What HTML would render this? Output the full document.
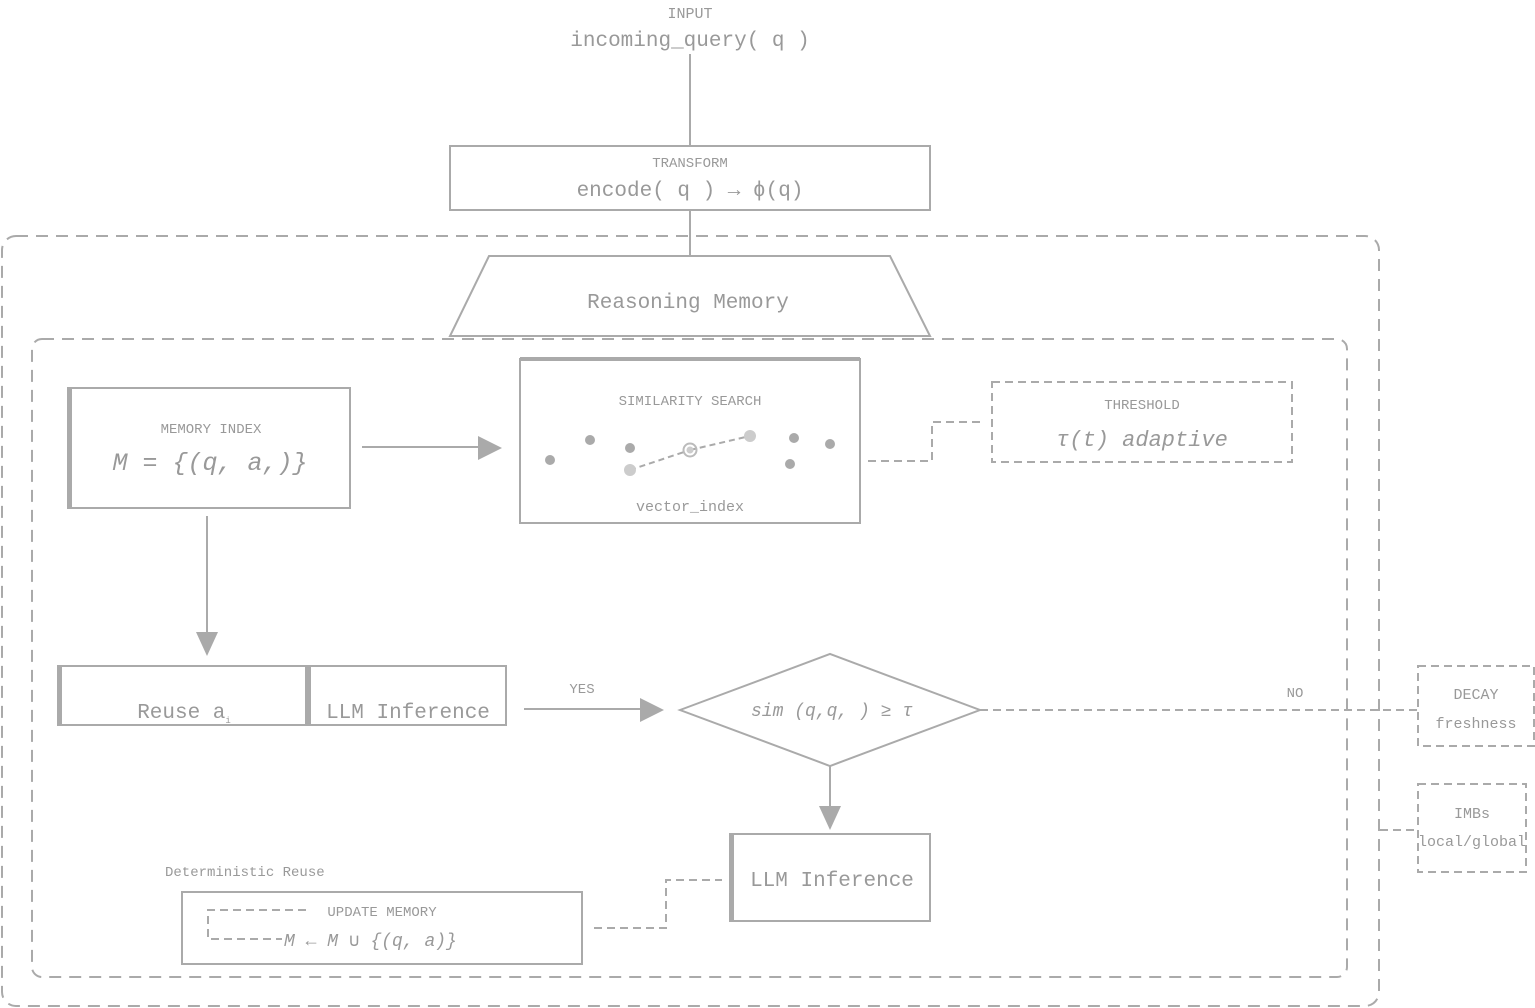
<!DOCTYPE html>
<html><head><meta charset="utf-8"><style>
html,body{margin:0;padding:0;background:#fff;}
svg{display:block;}
text{font-family:"Liberation Mono","DejaVu Sans Mono",monospace;fill:#999;}
</style></head><body>
<svg width="1535" height="1008" viewBox="0 0 1535 1008" xmlns="http://www.w3.org/2000/svg">
<g fill="none" stroke="#aaa" stroke-width="2">
<!-- outer containers -->
<rect x="2" y="236" width="1377" height="770" rx="14" stroke-dasharray="12,8"/>
<rect x="32" y="339" width="1315" height="638" rx="10" stroke-dasharray="12,8"/>
<!-- top lines -->
<line x1="690" y1="54" x2="690" y2="146"/>
<rect x="450" y="146" width="480" height="64"/>
<line x1="690" y1="210" x2="690" y2="256"/>
<polygon points="489,256 890,256 930,336 450,336" fill="#fff"/>
<!-- memory index -->
<rect x="68" y="388" width="282" height="120"/>
<line x1="70" y1="388" x2="70" y2="508" stroke-width="4"/>
<line x1="362" y1="447" x2="482" y2="447"/>
<!-- similarity -->
<rect x="520" y="359" width="340" height="164"/>
<line x1="520" y1="359" x2="860" y2="359" stroke-width="4"/>
<line x1="630" y1="470" x2="690" y2="450" stroke-dasharray="6,4"/>
<line x1="690" y1="450" x2="750" y2="436" stroke-dasharray="6,4"/>
<!-- threshold -->
<rect x="992" y="382" width="300" height="80" stroke-dasharray="8,5"/>
<polyline points="868,461 932,461 932,422 982,422" stroke-dasharray="8,5"/>
<!-- down arrow -->
<line x1="207" y1="516" x2="207" y2="636"/>
<!-- reuse/llm -->
<rect x="58" y="666" width="248" height="59"/>
<line x1="60" y1="666" x2="60" y2="725" stroke-width="4"/>
<rect x="308" y="666" width="198" height="59"/>
<line x1="309" y1="666" x2="309" y2="725" stroke-width="4"/>
<line x1="524" y1="709" x2="644" y2="709"/>
<!-- diamond -->
<polygon points="680,710 830,654 980,710 830,766"/>
<line x1="980" y1="710" x2="1418" y2="710" stroke-dasharray="8,5"/>
<line x1="830" y1="766" x2="830" y2="810"/>
<!-- llm inference 2 -->
<rect x="730" y="834" width="200" height="87"/>
<line x1="732" y1="834" x2="732" y2="921" stroke-width="4"/>
<!-- update memory -->
<rect x="182" y="892" width="400" height="72"/>
<polyline points="306,910 208,910 208,939 282,939" stroke-dasharray="8,5"/>
<polyline points="594,928 666,928 666,880 722,880" stroke-dasharray="8,5"/>
<!-- decay / imbs -->
<rect x="1418" y="666" width="116" height="80" stroke-dasharray="8,5"/>
<rect x="1418" y="784" width="108" height="88" stroke-dasharray="8,5"/>
<line x1="1380" y1="830" x2="1418" y2="830" stroke-dasharray="8,5"/>
</g>
<g fill="#aaa">
<polygon points="478,436 502,448 478,460"/>
<polygon points="196,632 218,632 207,656"/>
<polygon points="640,698 664,710 640,722"/>
<polygon points="819,806 841,806 830,830"/>
<circle cx="550" cy="460" r="5"/><circle cx="590" cy="440" r="5"/><circle cx="630" cy="448" r="5"/>
<circle cx="794" cy="438" r="5"/><circle cx="790" cy="464" r="5"/><circle cx="830" cy="444" r="5"/>
<circle cx="630" cy="470" r="6" fill="#ccc"/><circle cx="750" cy="436" r="6" fill="#ccc"/>
<circle cx="690" cy="450" r="6.5" fill="none" stroke="#bbb" stroke-width="2"/><circle cx="690" cy="450" r="3.5" fill="#ccc"/>
</g>
<text x="690" y="18" font-size="15" text-anchor="middle" fill="#888">INPUT</text>
<text x="690" y="46" font-size="21" text-anchor="middle" fill="#aaa">incoming_query( q )</text>
<text x="690" y="167" font-size="14" text-anchor="middle" fill="#999">TRANSFORM</text>
<text x="690" y="196" font-size="21" text-anchor="middle" fill="#999">encode( q ) → ϕ(q)</text>
<text x="688" y="308" font-size="21" text-anchor="middle" fill="#999">Reasoning Memory</text>
<text x="211" y="433" font-size="14" text-anchor="middle">MEMORY INDEX</text>
<text x="210" y="470" font-size="25" font-style="italic" text-anchor="middle">M = {(q, a,)}</text>
<text x="690" y="405" font-size="14" text-anchor="middle">SIMILARITY SEARCH</text>
<text x="690" y="511" font-size="15" text-anchor="middle">vector_index</text>
<text x="1142" y="409" font-size="14" text-anchor="middle">THRESHOLD</text>
<text x="1142" y="446" font-size="22" font-style="italic" text-anchor="middle" fill="#aaa">τ(t) adaptive</text>
<text x="184" y="718" font-size="21" text-anchor="middle">Reuse a<tspan font-size="9" dy="5">i</tspan></text>
<text x="408" y="718" font-size="21" text-anchor="middle">LLM Inference</text>
<text x="582" y="693" font-size="14" text-anchor="middle" fill="#333">YES</text>
<text x="1295" y="697" font-size="14" text-anchor="middle" fill="#333">NO</text>
<text x="832" y="716" font-size="18" font-style="italic" text-anchor="middle">sim (q,q, ) ≥ τ</text>
<text x="832" y="886" font-size="21" text-anchor="middle">LLM Inference</text>
<text x="165" y="876" font-size="14" fill="#aaa">Deterministic Reuse</text>
<text x="382" y="916" font-size="14" text-anchor="middle">UPDATE MEMORY</text>
<text x="284" y="946" font-size="18" font-style="italic">M ← M ∪ {(q, a)}</text>
<text x="1476" y="699" font-size="15" text-anchor="middle" fill="#bbb">DECAY</text>
<text x="1476" y="728" font-size="15" text-anchor="middle" fill="#bbb">freshness</text>
<text x="1472" y="818" font-size="15" text-anchor="middle" fill="#bbb">IMBs</text>
<text x="1472" y="846" font-size="15" text-anchor="middle" fill="#bbb">local/global</text>
</svg>
</body></html>
